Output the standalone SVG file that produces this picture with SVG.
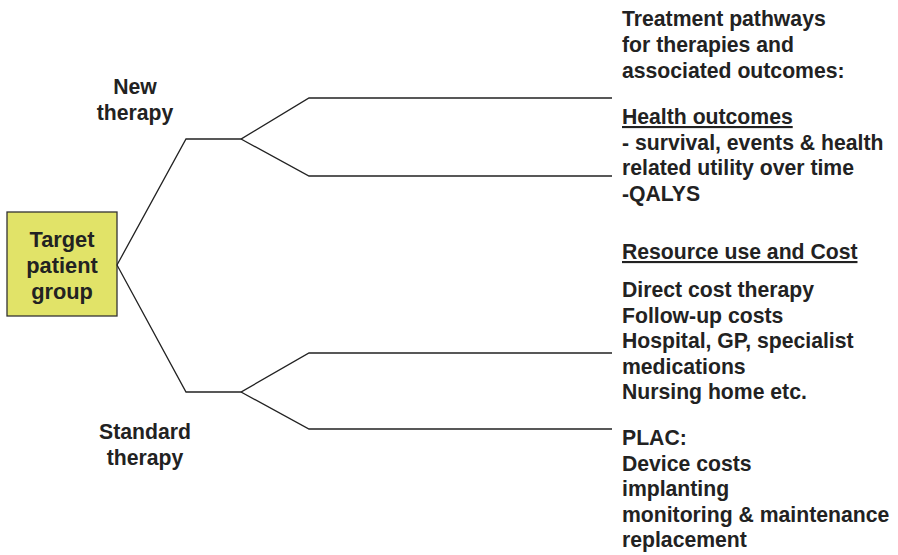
<svg xmlns="http://www.w3.org/2000/svg" width="898" height="555" viewBox="0 0 898 555">
<style>
text{font-family:"Liberation Sans",Arial,sans-serif;font-weight:bold;font-size:21.2px;fill:#222}
.c{text-anchor:middle}
.b{font-size:21.8px}
.u{text-decoration:underline}
.ln{fill:none;stroke:#222;stroke-width:1.3}
</style>
<rect width="898" height="555" fill="#fff"/>
<g id="target">
<rect x="7" y="212" width="110" height="104" fill="#e1e368" stroke="#333" stroke-width="1.3"/>
<text class="c b" x="62" y="247">Target</text>
<text class="c b" x="62" y="273">patient</text>
<text class="c b" x="62" y="299">group</text>
</g>
<g id="new-therapy">
<text class="c" x="135" y="94">New</text>
<text class="c" x="135" y="120">therapy</text>
</g>
<g id="standard-therapy">
<text class="c" x="145" y="439">Standard</text>
<text class="c" x="145" y="465">therapy</text>
</g>
<g id="connectors">
<polyline class="ln" points="117,265 186,139 241,139 309,98 612,98"/>
<polyline class="ln" points="241,139 309,176 612,176"/>
<polyline class="ln" points="117,265 186,392 241,392 309,353 612,353"/>
<polyline class="ln" points="241,392 309,429 612,429"/>
</g>
<g id="outcomes">
<text x="622" y="26">Treatment pathways</text>
<text x="622" y="52">for therapies and</text>
<text x="622" y="78">associated outcomes:</text>
<text class="u" x="622" y="124">Health outcomes</text>
<text x="622" y="150">- survival, events &amp; health</text>
<text x="622" y="175">related utility over time</text>
<text x="622" y="201">-QALYS</text>
<text class="u" x="622" y="259">Resource use and Cost</text>
<text x="622" y="297">Direct cost therapy</text>
<text x="622" y="323">Follow-up costs</text>
<text x="622" y="348">Hospital, GP, specialist</text>
<text x="622" y="374">medications</text>
<text x="622" y="399">Nursing home etc.</text>
<text x="622" y="445">PLAC:</text>
<text x="622" y="471">Device costs</text>
<text x="622" y="496">implanting</text>
<text x="622" y="522">monitoring &amp; maintenance</text>
<text x="622" y="547">replacement</text>
</g>
</svg>
